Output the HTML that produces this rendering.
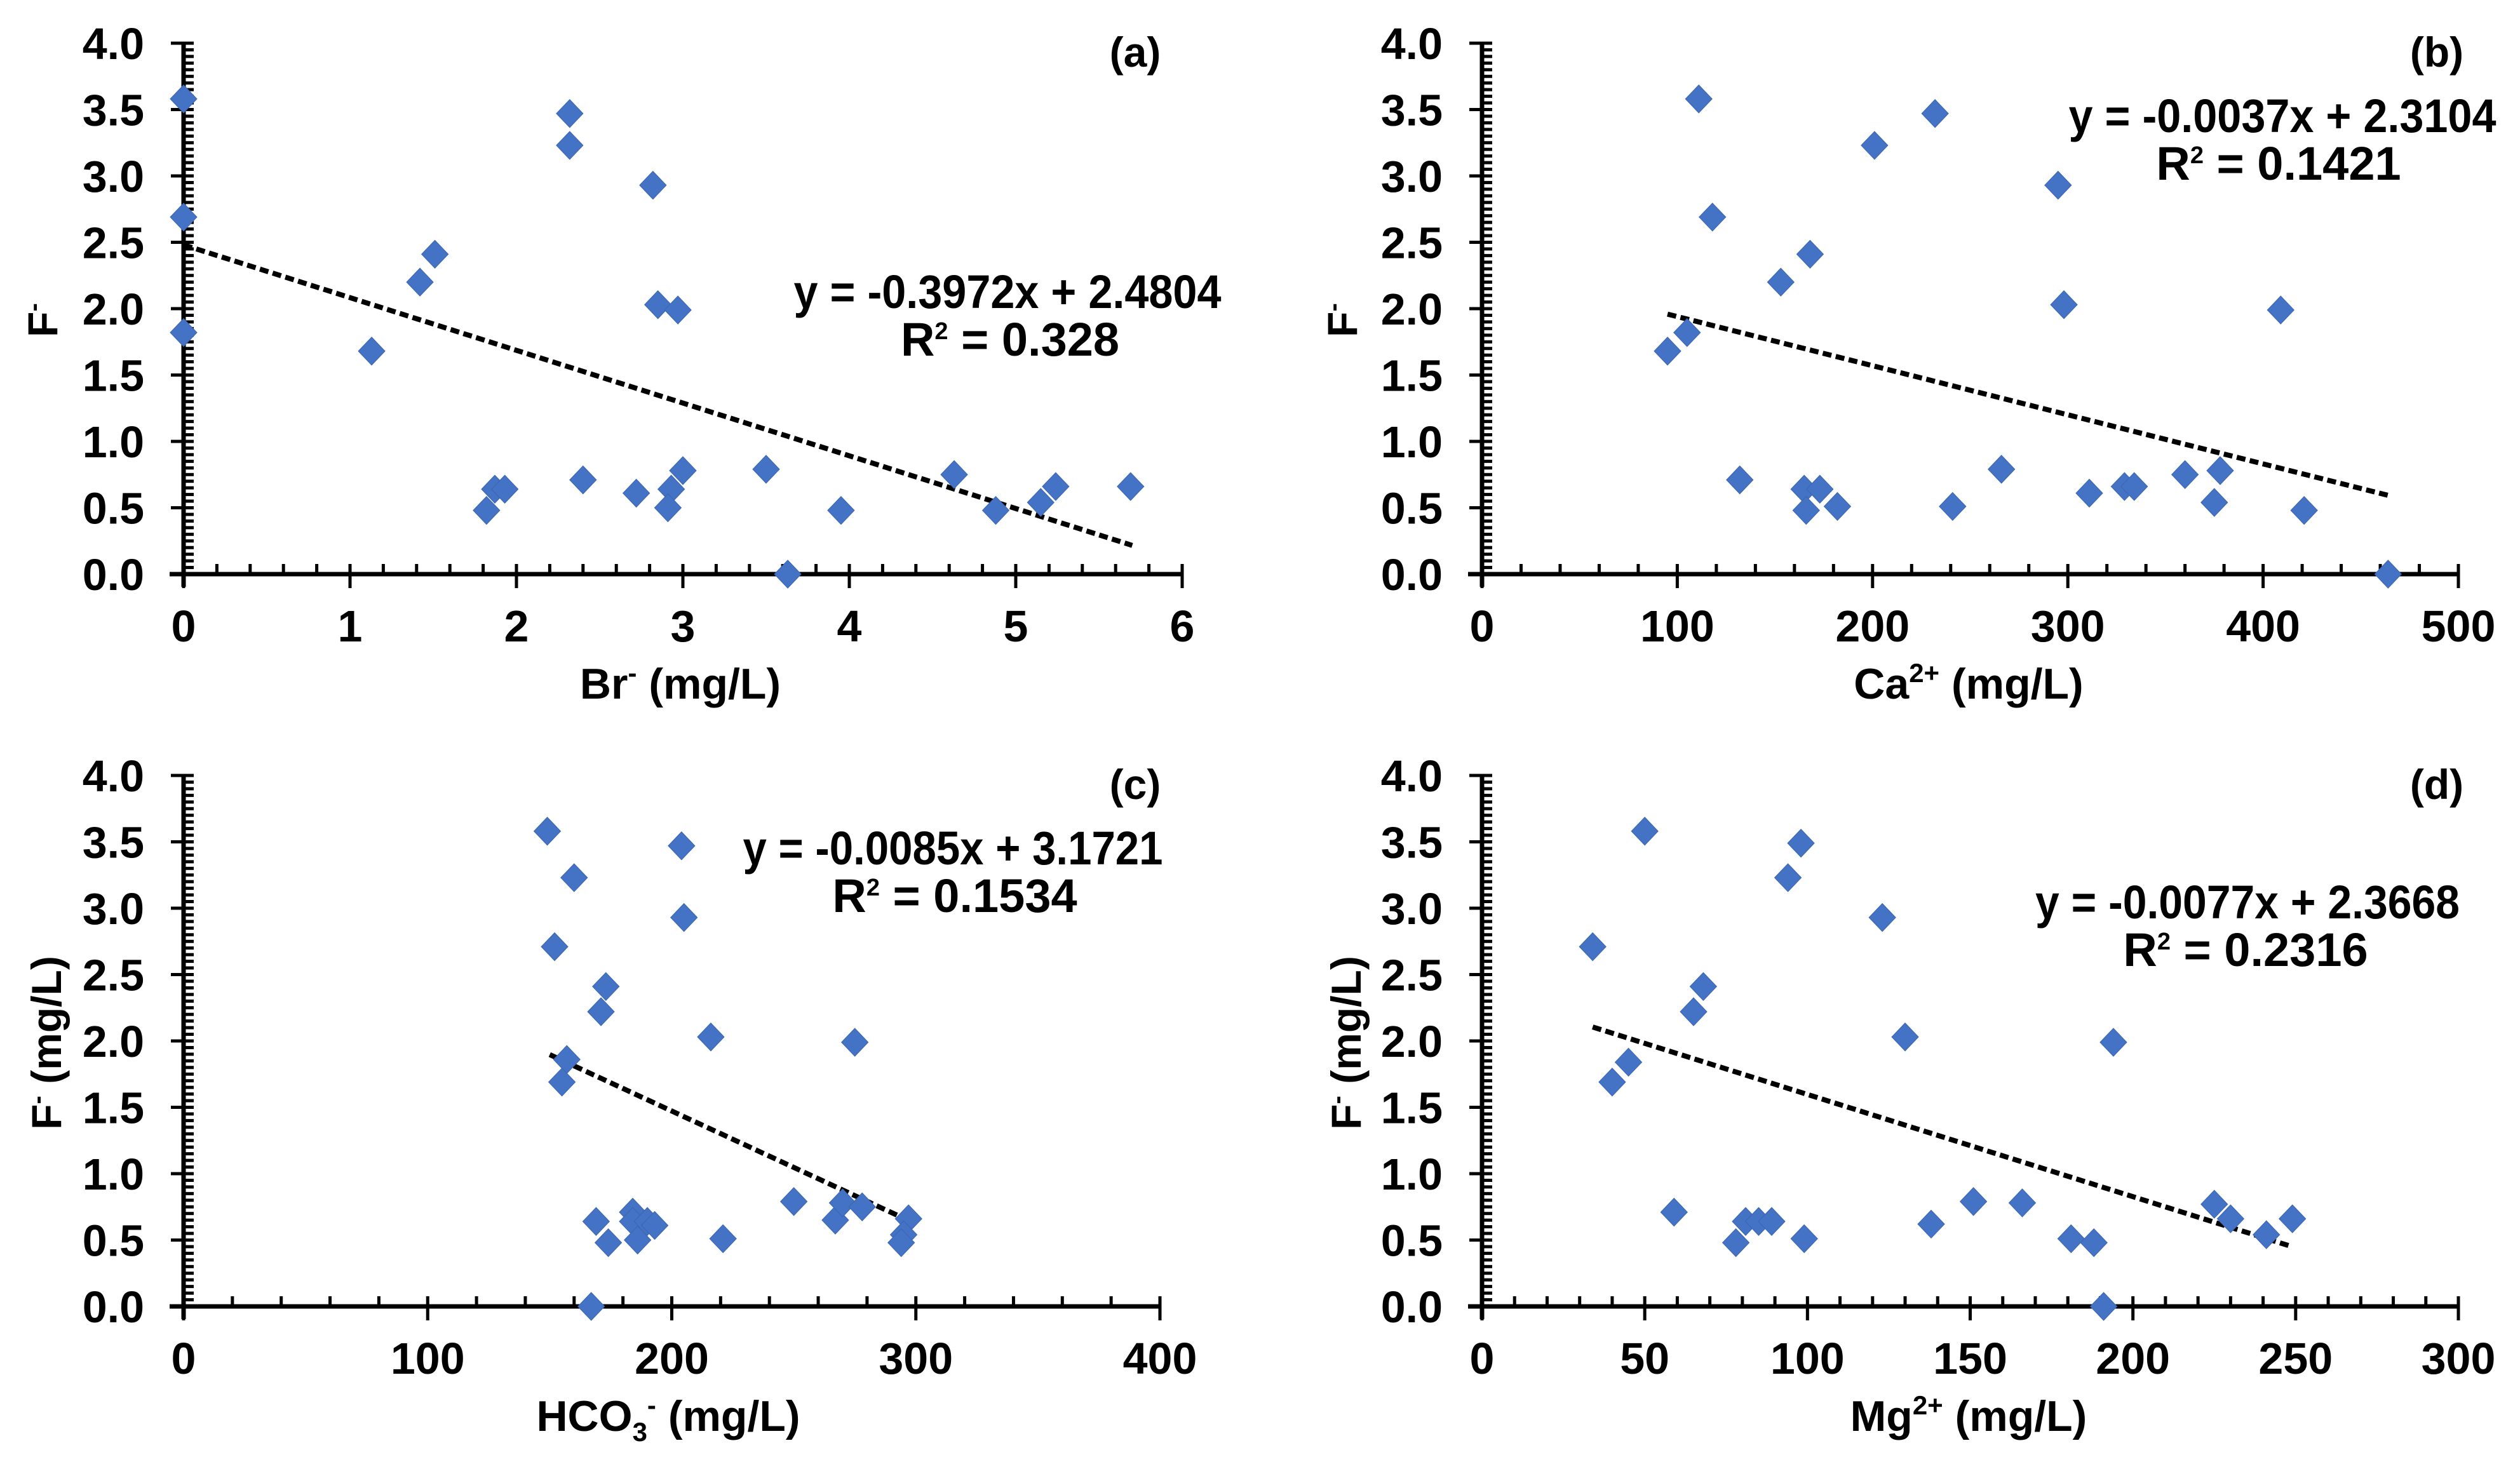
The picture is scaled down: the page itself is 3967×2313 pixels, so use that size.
<!DOCTYPE html>
<html><head><meta charset="utf-8"><style>
html,body{margin:0;padding:0;background:#fff}
svg{display:block}
text{font-family:"Liberation Sans",Arial,sans-serif;font-weight:bold;fill:#000}
</style></head>
<body>
<svg id="fig" xmlns="http://www.w3.org/2000/svg" width="3967" height="2313" viewBox="0 0 3967 2313"></svg>
<script>
// Panel (a) Br-
const aX = [0,0,0,1.13,1.42,1.51,1.82,1.87,1.93,2.32,2.32,2.40,2.72,2.82,2.85,2.97,2.93,2.91,3.00,3.50,3.63,3.95,4.63,4.88,5.15,5.24,5.69];
const aY = [3.58,2.69,1.82,1.68,2.20,2.41,0.48,0.64,0.64,3.47,3.23,0.71,0.61,2.93,2.03,1.99,0.64,0.50,0.78,0.79,0,0.48,0.75,0.48,0.54,0.66,0.66];
// Panel (b) Ca2+
const bX = [111,118,95,105,153,168,201,232,295,298,409,132,165,173,166,182,241,266,311,329,334,360,378,375,421,464];
const bY = [3.58,2.69,1.68,1.82,2.20,2.41,3.23,3.47,2.93,2.03,1.99,0.71,0.64,0.64,0.48,0.51,0.51,0.79,0.61,0.66,0.66,0.75,0.78,0.54,0.48,0];
// Panel (c) HCO3-
const cX = [149,152,160,173,171,157,155,204,205,216,275,169,174,184,184,186,190,193,167,221,250,267,270,278,297,295,294];
const cY = [3.58,2.71,3.23,2.41,2.22,1.86,1.69,3.47,2.93,2.03,1.99,0.64,0.48,0.71,0.64,0.50,0.64,0.61,0,0.51,0.79,0.65,0.78,0.75,0.66,0.54,0.48];
// Panel (d) Mg2+
const dX = [50,34,98,94,123,65,68,130,194,45,40,59,78,81,85,89,99,138,151,166,181,188,191,225,230,241,249];
const dY = [3.58,2.71,3.49,3.23,2.93,2.22,2.41,2.03,1.99,1.84,1.69,0.71,0.48,0.64,0.64,0.64,0.51,0.62,0.79,0.78,0.51,0.48,0,0.77,0.66,0.54,0.66];
// Trend lines: slope, intercept, x range
const aTrend = [-0.3972, 2.4804, 0, 5.7];
const bTrend = [-0.0037, 2.3104, 95, 464];
const cTrend = [-0.0085, 3.1721, 150, 297];
const dTrend = [-0.0077, 2.3668, 34, 249];
const yTicks = ["0.0","0.5","1.0","1.5","2.0","2.5","3.0","3.5","4.0"];
const aXTicks = ["0","1","2","3","4","5","6"];
const bXTicks = ["0","100","200","300","400","500"];
const cXTicks = ["0","100","200","300","400"];
const dXTicks = ["0","50","100","150","200","250","300"];

const NS = "http://www.w3.org/2000/svg";
const svg = document.getElementById('fig');
function mk(tag, attrs, parent){
  const e = document.createElementNS(NS, tag);
  for (const k in attrs) e.setAttribute(k, attrs[k]);
  (parent||svg).appendChild(e);
  return e;
}

const panels = [
  {id:'a', xs:aX, ys:aY, tr:aTrend, xt:aXTicks, xmax:6, minor:0.2, x0:289, x1:1861, y0:904, y1:68,
   tag:'(a)', tagX:1787, tagY:105, eq:'y = -0.3972x + 2.4804', eqX:1586, eqY:485, eqW:673, r2:'0.328', r2X:1590, r2Y:560,
   ytitle:'F', ytUnit:false, ytX:90, ytY:504, xtitle:'Br', xsup:'-', xsub:'', xtX:1071, xtY:1100},
  {id:'b', xs:bX, ys:bY, tr:bTrend, xt:bXTicks, xmax:500, minor:20, x0:2333, x1:3870, y0:904, y1:68,
   tag:'(b)', tagX:3836, tagY:105, eq:'y = -0.0037x + 2.3104', eqX:3593, eqY:208, eqW:673, r2:'0.1421', r2X:3587, r2Y:283,
   ytitle:'F', ytUnit:false, ytX:2136, ytY:504, xtitle:'Ca', xsup:'2+', xsub:'', xtX:3099, xtY:1100},
  {id:'c', xs:cX, ys:cY, tr:cTrend, xt:cXTicks, xmax:400, minor:20, x0:289, x1:1826, y0:2057, y1:1221,
   tag:'(c)', tagX:1787, tagY:1258, eq:'y = -0.0085x + 3.1721', eqX:1500, eqY:1361, eqW:661, r2:'0.1534', r2X:1503, r2Y:1436,
   ytitle:'F', ytUnit:true, ytX:96, ytY:1642, xtitle:'HCO', xsup:'-', xsub:'3', xtX:1052, xtY:2253},
  {id:'d', xs:dX, ys:dY, tr:dTrend, xt:dXTicks, xmax:300, minor:10, x0:2333, x1:3870, y0:2057, y1:1221,
   tag:'(d)', tagX:3836, tagY:1258, eq:'y = -0.0077x + 2.3668', eqX:3538, eqY:1446, eqW:668, r2:'0.2316', r2X:3535, r2Y:1521,
   ytitle:'F', ytUnit:true, ytX:2142, ytY:1642, xtitle:'Mg', xsup:'2+', xsub:'', xtX:3099, xtY:2253}
];

panels.forEach(p => {
  const g = mk('g', {});
  
  
  const sx = v => p.x0 + (v / p.xmax) * (p.x1 - p.x0);
  const sy = v => p.y0 - (v / 4) * (p.y0 - p.y1);

  const ya = mk('line', {x1:p.x0, y1:p.y1, x2:p.x0, y2:p.y0+20, stroke:'#000', 'stroke-width':7}, g);
  
  
  for (let i = 0; i <= 80; i++) {
    const v = i * 0.05, y = sy(v);
    const major = (i % 10 === 0);
    const t = mk('line', {x1: major ? p.x0-20 : p.x0, y1:y, x2:p.x0+16, y2:y, stroke:'#000', 'stroke-width':5}, g);
    
    
  }
  yTicks.forEach((lab, i) => {
    const t = mk('text', {x:p.x0-62, y:sy(i*0.5)+25, 'text-anchor':'end', 'font-size':70}, g);
    t.textContent = lab;
    
    
  });
  const xa = mk('line', {x1:p.x0-22, y1:p.y0, x2:p.x1, y2:p.y0, stroke:'#000', 'stroke-width':7}, g);
  
  
  const nMinor = Math.round(p.xmax / p.minor);
  const per = nMinor / (p.xt.length - 1);
  for (let i = 0; i <= nMinor; i++) {
    const x = sx(i * p.minor);
    const major = (i % per === 0);
    const t = mk('line', {x1:x, y1:p.y0-16, x2:x, y2: major ? p.y0+22 : p.y0, stroke:'#000', 'stroke-width':5}, g);
    
    
  }
  p.xt.forEach((lab, i) => {
    const t = mk('text', {x:sx(i * p.xmax / (p.xt.length-1)), y:p.y0+106, 'text-anchor':'middle', 'font-size':70}, g);
    t.textContent = lab;
    
    
  });
  const [m, b, xa0, xa1] = p.tr;
  const tl = mk('line', {x1:sx(xa0), y1:sy(m*xa0+b), x2:sx(xa1), y2:sy(m*xa1+b), stroke:'#000', 'stroke-width':8, 'stroke-dasharray':'14 7'}, g);
  
  
  p.xs.forEach((xv, i) => {
    const cx = sx(xv), cy = sy(p.ys[i]);
    const d = mk('polygon', {points:`${cx},${cy-22} ${cx+21},${cy} ${cx},${cy+22} ${cx-21},${cy}`, fill:'#4472C4', stroke:'#3a65b0', 'stroke-width':1}, g);
    
    
  });
  const tg = mk('text', {x:p.tagX, y:p.tagY, 'text-anchor':'middle', 'font-size':66}, g);
  tg.textContent = p.tag;
  
  
  const eq = mk('text', {x:p.eqX, y:p.eqY, 'text-anchor':'middle', 'font-size':74, textLength:p.eqW, lengthAdjust:'spacingAndGlyphs'}, g);
  eq.textContent = p.eq;
  
  
  const r2 = mk('text', {x:p.r2X, y:p.r2Y, 'text-anchor':'middle', 'font-size':74}, g);
  r2.innerHTML = 'R<tspan dy="-26" font-size="38">2</tspan><tspan dy="26"> = ' + p.r2 + '</tspan>';
  
  
  const yt = mk('text', {x:0, y:0, 'text-anchor':'middle', 'font-size':66, transform:`translate(${p.ytX},${p.ytY}) rotate(-90)`}, g);
  yt.innerHTML = 'F<tspan dy="-24" font-size="40">-</tspan><tspan dy="24">' + (p.ytUnit ? '  (mg/L)' : '') + '</tspan>';
  
  
  const xt = mk('text', {x:p.xtX, y:p.xtY, 'text-anchor':'middle', 'font-size':68}, g);
  let html = p.xtitle;
  if (p.xsub) html += '<tspan dy="16" font-size="42">' + p.xsub + '</tspan><tspan dy="-42" font-size="42">' + p.xsup + '</tspan><tspan dy="26"> (mg/L)</tspan>';
  else html += '<tspan dy="-26" font-size="42">' + p.xsup + '</tspan><tspan dy="26"> (mg/L)</tspan>';
  xt.innerHTML = html;
  
  
});
</script>
</body></html>
